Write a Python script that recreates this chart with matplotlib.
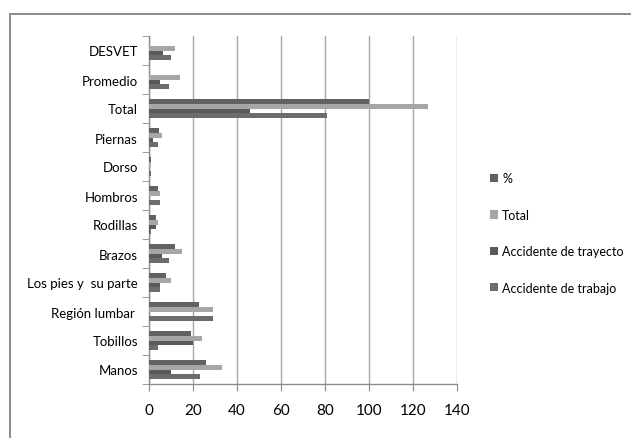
import matplotlib
matplotlib.use('Agg')
from matplotlib import pyplot as plt
from matplotlib.patches import Rectangle
import numpy as np

# Categories, bottom to top
categories = ['Manos', 'Tobillos', 'Región lumbar ', 'Los pies y  su parte', 'Brazos',
              'Rodillas', 'Hombros', 'Dorso', 'Piernas', 'Total', 'Promedio', 'DESVET']

accidente_trabajo = [23, 4, 29, 5, 9, 1, 5, 1, 4, 81, 9.0, 10.0]
accidente_trayecto = [10, 20, 0, 5, 6, 3, 0, 0, 2, 46, 5.1, 6.5]
total = [33, 24, 29, 10, 15, 4, 5, 1, 6, 127, 14.1, 11.8]
porcentaje = [26.0, 18.9, 22.8, 7.9, 11.8, 3.1, 3.9, 0.8, 4.7, 100, 0, 0]

series = [('Accidente de trabajo', accidente_trabajo, '#6c6c6c'),
          ('Accidente de trayecto', accidente_trayecto, '#595959'),
          ('Total', total, '#a6a6a6'),
          ('%', porcentaje, '#626262')]

plt.rcParams['font.family'] = ['Lato', 'DejaVu Sans']

fig = plt.figure(figsize=(6.31, 4.39), dpi=100)
ax = fig.add_axes([149 / 631, 54 / 439, 308 / 631, 348 / 439])

# outer chart frame (only top and left edges visible)
fig.patches.append(Rectangle((9.5 / 631, -0.05), 1.1, (439 - 14.5) / 439 + 0.05,
                             transform=fig.transFigure, fill=False,
                             edgecolor='#8a8a8a', linewidth=1.4))

y = np.arange(len(categories))
bar_h = 0.172
for i, (name, vals, color) in enumerate(series):
    offset = (i - 1.5) * bar_h
    ax.barh(y + offset, vals, height=bar_h, color=color, label=name, zorder=3)

ax.set_xlim(0, 140)
ax.set_ylim(-0.5, len(categories) - 0.5)
ax.set_xticks(np.arange(0, 141, 20))
ax.set_yticks(y)
ax.set_yticklabels(categories)
ax.set_yticks(np.arange(-0.5, len(categories), 1), minor=True)

ax.grid(axis='x', color='#a8a8a8', linewidth=1.0, zorder=0)
for side in ['top', 'right']:
    ax.spines[side].set_visible(False)
for side in ['left', 'bottom']:
    ax.spines[side].set_color('#8c8c8c')
    ax.spines[side].set_linewidth(1.0)

ax.tick_params(axis='y', which='major', length=0, pad=8, labelsize=9.5)
ax.tick_params(axis='y', which='minor', length=5, color='#8c8c8c')
ax.tick_params(axis='x', length=5, color='#8c8c8c', labelsize=11, pad=9)

handles, labels = ax.get_legend_handles_labels()
ax.legend(handles[::-1], labels[::-1], loc='center left',
          bbox_to_anchor=(479 / 631, (439 - 234) / 439), bbox_transform=fig.transFigure,
          frameon=False, fontsize=9, handlelength=0.65, handleheight=0.65,
          handletextpad=0.3, labelspacing=1.95)

fig.savefig('out.png', dpi=100, facecolor='white')
